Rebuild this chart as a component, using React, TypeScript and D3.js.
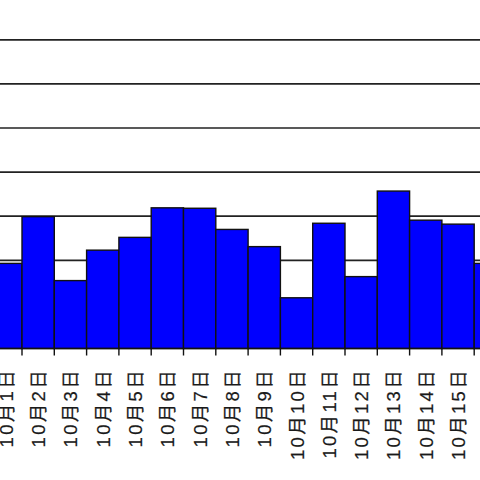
import React from "react";
import * as d3 from "d3";

const categories = [
  "10月1日", "10月2日", "10月3日", "10月4日", "10月5日", "10月6日", "10月7日", "10月8日",
  "10月9日", "10月10日", "10月11日", "10月12日", "10月13日", "10月14日", "10月15日", "10月16日",
];
const values = [19.3, 29.9, 15.4, 22.3, 25.2, 31.9, 31.8, 27.0, 23.1, 11.5, 28.4, 16.3, 35.7, 29.1, 28.2, 19.3];
const gridTicks = [10, 20, 30, 40, 50, 60, 70];

export default function App() {
  const W = 480, H = 480;
  const step = 32.3;
  const x0 = 22 - step;
  const x = d3.scaleBand<string>().domain(categories).range([x0, x0 + step * categories.length]).padding(0);
  const y = d3.scaleLinear().domain([0, 70]).range([348.5, 39.8]);
  const base = y(0);
  return (
    <svg width={W} height={H} style={{ position: "absolute", left: 0, top: 0, background: "#fff" }}>
      <rect x={0} y={0} width={W} height={H} fill="#fff" />
      {gridTicks.map((t) => (
        <line key={t} x1={0} x2={W} y1={y(t)} y2={y(t)} stroke="#222" strokeWidth={1.7} />
      ))}
      {categories.map((c, i) => (
        <rect key={c} x={x(c)!} y={y(values[i])} width={x.bandwidth()} height={base - y(values[i])}
          fill="#0000ff" stroke="#111" strokeWidth={1.4} />
      ))}
      <line x1={0} x2={W} y1={base} y2={base} stroke="#111" strokeWidth={1.4} />
      {categories.map((c) => (
        <line key={"t" + c} x1={x(c)! + x.bandwidth()} x2={x(c)! + x.bandwidth()} y1={base} y2={base + 7} stroke="#111" strokeWidth={1.4} />
      ))}
      {categories.map((c) => {
        const cx = x(c)! + x.bandwidth() / 2;
        const ty = 368;
        return (
          <text key={"l" + c} transform={`translate(${cx + 7},${ty}) rotate(-90)`} textAnchor="end"
            fontFamily="'Liberation Sans', 'Noto Sans CJK JP', sans-serif" fontSize={18.5} letterSpacing={2.3}
            fill="#1a1a1a" stroke="#1a1a1a" strokeWidth={0.2}>
            {c}
          </text>
        );
      })}
    </svg>
  );
}
